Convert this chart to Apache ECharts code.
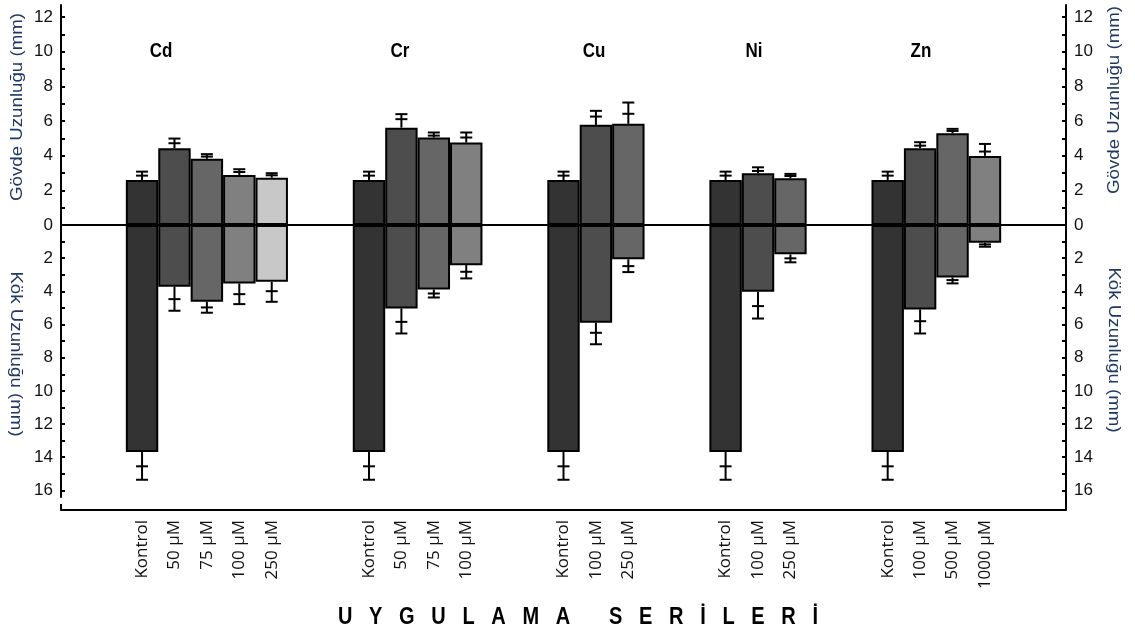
<!DOCTYPE html>
<html>
<head>
<meta charset="utf-8">
<script src="https://cdn.jsdelivr.net/npm/echarts@6/dist/echarts.min.js"></script>
<style>
  html, body { margin: 0; padding: 0; background: #fff; }
  #chart { width: 1135px; height: 633px; }
</style>
</head>
<body>
<div id="chart"></div>
<script>
const metals = ['Cd', 'Cr', 'Cu', 'Ni', 'Zn'];
const doses = [
  ['Kontrol', '50 µM', '75 µM', '100 µM', '250 µM'],
  ['Kontrol', '50 µM', '75 µM', '100 µM'],
  ['Kontrol', '100 µM', '250 µM'],
  ['Kontrol', '100 µM', '250 µM'],
  ['Kontrol', '100 µM', '500 µM', '1000 µM']
];
// gövde uzunluğu (mm), ortalama + iki hata çizgisi
const shootMean = [
  [2.60, 4.43, 3.82, 2.89, 2.73],
  [2.60, 5.62, 5.05, 4.76],
  [2.60, 5.78, 5.84],
  [2.60, 2.99, 2.70],
  [2.60, 4.43, 5.30, 3.99]
];
const shootErrIn = [
  [0.25, 0.29, 0.13, 0.17, 0.14],
  [0.25, 0.49, 0.11, 0.29],
  [0.25, 0.48, 0.58],
  [0.25, 0.13, 0.13],
  [0.25, 0.15, 0.13, 0.25]
];
const shootErrOut = [
  [0.48, 0.56, 0.27, 0.33, 0.26],
  [0.48, 0.78, 0.29, 0.58],
  [0.48, 0.81, 1.23],
  [0.48, 0.34, 0.25],
  [0.48, 0.35, 0.25, 0.69]
];
// kök uzunluğu (mm)
const rootMean = [
  [13.69, 3.72, 4.63, 3.52, 3.42],
  [13.69, 5.03, 3.89, 2.42],
  [13.69, 5.90, 2.07],
  [13.69, 4.03, 1.77],
  [13.69, 5.09, 3.16, 1.07]
];
const rootErrIn = [
  [0.86, 0.75, 0.34, 0.65, 0.57],
  [0.86, 0.81, 0.24, 0.40],
  [0.86, 0.60, 0.41],
  [0.86, 0.86, 0.24],
  [0.86, 0.71, 0.16, 0.10]
];
const rootErrOut = [
  [1.67, 1.45, 0.66, 1.25, 1.21],
  [1.67, 1.51, 0.48, 0.80],
  [1.67, 1.29, 0.77],
  [1.67, 1.61, 0.48],
  [1.67, 1.45, 0.36, 0.24]
];
const topLabels = [0, 2, 4, 6, 8, 10, 12];
const topTicks = [0, 1, 2, 3, 4, 5, 6, 7, 8, 9, 10, 11, 12];
const bottomLabels = [2, 4, 6, 8, 10, 12, 14, 16];
const bottomTicks = [1, 2, 3, 4, 5, 6, 7, 8, 9, 10, 11, 12, 13, 14, 15, 16];
const barColors = ['#333333', '#4d4d4d', '#666666', '#808080', '#c8c8c8'];
const titleX = [161, 400, 594, 754, 921];

// kategoriler: gruplar arasında 2 boş yer
const cats = [], topBars = [], botBars = [], topErr = [], botErr = [];
function addGap() {
  for (let k = 0; k < 2; k++) { cats.push(''); topBars.push('-'); botBars.push('-'); }
}
addGap();
metals.forEach(function (m, g) {
  doses[g].forEach(function (d, i) {
    const idx = cats.length;
    cats.push(d);
    topBars.push({ value: shootMean[g][i], itemStyle: { color: barColors[i] } });
    botBars.push({ value: rootMean[g][i], itemStyle: { color: barColors[i] } });
    topErr.push([idx, shootMean[g][i], shootMean[g][i] + shootErrIn[g][i], shootMean[g][i] + shootErrOut[g][i]]);
    botErr.push([idx, rootMean[g][i], rootMean[g][i] + rootErrIn[g][i], rootMean[g][i] + rootErrOut[g][i]]);
  });
  addGap();
});

function renderErr(params, api) {
  const x = api.value(0);
  const p0 = api.coord([x, api.value(1)]);
  const p1 = api.coord([x, api.value(2)]);
  const p2 = api.coord([x, api.value(3)]);
  const hw = 6;
  const st = { stroke: '#000', lineWidth: 2 };
  return {
    type: 'group',
    children: [
      { type: 'line', shape: { x1: p0[0], y1: p0[1], x2: p2[0], y2: p2[1] }, style: st },
      { type: 'line', shape: { x1: p1[0] - hw, y1: p1[1], x2: p1[0] + hw, y2: p1[1] }, style: st },
      { type: 'line', shape: { x1: p2[0] - hw, y1: p2[1], x2: p2[0] + hw, y2: p2[1] }, style: st }
    ]
  };
}

const tickFont = { fontFamily: 'Liberation Sans', fontSize: 17, color: '#111' };
function yAxisCfg(grid, pos, max, inverse, labels, ticks) {
  return {
    type: 'value',
    gridIndex: grid,
    position: pos,
    min: 0,
    max: max,
    interval: 2,
    inverse: inverse,
    axisLine: { show: true, onZero: false, lineStyle: { color: '#000', width: 2 } },
    axisTick: { show: true, inside: true, length: 4, customValues: ticks, lineStyle: { color: '#000', width: 2 } },
    axisLabel: Object.assign({
      margin: 8,
      customValues: labels,
      formatter: function (v) { return labels.indexOf(v) >= 0 ? String(v) : ''; }
    }, tickFont),
    splitLine: { show: false }
  };
}

const nameStyle = { font: '17px "Liberation Sans"', fill: '#1f3864', align: 'center', verticalAlign: 'middle', textAlign: 'center', textVerticalAlign: 'middle' };
function sideName(text, x, y, rot) {
  return { type: 'text', x: x, y: y, rotation: rot, scaleX: 1.1, style: Object.assign({ text: text }, nameStyle) };
}

const graphics = [];
metals.forEach(function (m, g) {
  graphics.push({
    type: 'text', x: titleX[g], y: 52, scaleY: 1.15,
    style: { text: m, font: 'bold 17px "Liberation Sans"', fill: '#000', align: 'center', verticalAlign: 'middle', textAlign: 'center', textVerticalAlign: 'middle' }
  });
});
graphics.push(sideName('Gövde Uzunluğu (mm)', 17, 107, Math.PI / 2));
graphics.push(sideName('Kök Uzunluğu (mm)', 16, 354, -Math.PI / 2));
graphics.push(sideName('Gövde Uzunluğu (mm)', 1114, 100, Math.PI / 2));
graphics.push(sideName('Kök Uzunluğu (mm)', 1114, 350, -Math.PI / 2));
graphics.push({
  type: 'text', x: 578, y: 617, scaleY: 1.2,
  style: {
    text: 'U   Y   G   U   L   A   M   A       S   E   R   İ   L   E   R   İ',
    font: 'bold 20px "Liberation Sans"', fill: '#000',
    align: 'center', verticalAlign: 'middle', textAlign: 'center', textVerticalAlign: 'middle'
  }
});
// alt eksenin uç çizgileri
graphics.push({ type: 'line', shape: { x1: 61, y1: 504, x2: 61, y2: 510 }, style: { stroke: '#000', lineWidth: 2 } });
graphics.push({ type: 'line', shape: { x1: 1066, y1: 497, x2: 1066, y2: 510 }, style: { stroke: '#000', lineWidth: 2 } });

const option = {
  backgroundColor: '#fff',
  animation: false,
  grid: [
    { left: 61, right: 69, top: 5, height: 220 },
    { left: 61, right: 69, top: 225, height: 272 }
  ],
  xAxis: [
    {
      type: 'category', gridIndex: 0, data: cats, position: 'bottom', z: 10,
      axisLine: { onZero: false, lineStyle: { color: '#000', width: 2 } },
      axisTick: { show: false }, axisLabel: { show: false }, splitLine: { show: false }
    },
    {
      type: 'category', gridIndex: 1, data: cats, position: 'bottom', offset: 13,
      axisLine: { onZero: false, lineStyle: { color: '#000', width: 2 } },
      axisTick: { show: false },
      axisLabel: { interval: 0, rotate: 90, margin: 10, fontFamily: 'Open Sans', fontSize: 17, color: '#111' },
      splitLine: { show: false }
    }
  ],
  yAxis: [
    yAxisCfg(0, 'left', 12.7, false, topLabels, topTicks),
    yAxisCfg(0, 'right', 12.7, false, topLabels, topTicks),
    yAxisCfg(1, 'left', 16.4, true, bottomLabels, bottomTicks),
    yAxisCfg(1, 'right', 16.4, true, bottomLabels, bottomTicks)
  ],
  series: [
    {
      type: 'bar', xAxisIndex: 0, yAxisIndex: 0, data: topBars, barWidth: '100%',
      itemStyle: { borderColor: '#000', borderWidth: 2 }
    },
    {
      type: 'bar', xAxisIndex: 1, yAxisIndex: 2, data: botBars, barWidth: '100%',
      itemStyle: { borderColor: '#000', borderWidth: 2 }
    },
    {
      type: 'custom', xAxisIndex: 0, yAxisIndex: 0, data: topErr, renderItem: renderErr,
      encode: { x: 0, y: [1, 2, 3] }, z: 5
    },
    {
      type: 'custom', xAxisIndex: 1, yAxisIndex: 2, data: botErr, renderItem: renderErr,
      encode: { x: 0, y: [1, 2, 3] }, z: 5
    }
  ],
  graphic: graphics
};

const chart = echarts.init(document.getElementById('chart'));
chart.setOption(option);
</script>
</body>
</html>
